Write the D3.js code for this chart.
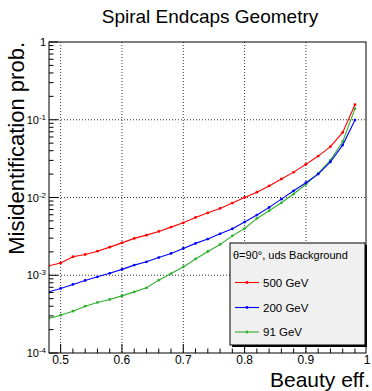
<!DOCTYPE html>
<html>
<head>
<meta charset="utf-8">
<script src="https://cdn.jsdelivr.net/npm/d3@7"></script>
<style>
	body { margin: 0; background: #fff; }
	svg { display: block; font-family: "Liberation Sans", Arial, sans-serif; }
</style>
</head>
<body>
<div id="chart"></div>
<script>
// beauty efficiency points, same for all three curves
var beautyEff = [0.48, 0.50, 0.52, 0.54, 0.56, 0.58, 0.60, 0.62, 0.64, 0.66, 0.68, 0.70, 0.72,
	0.74, 0.76, 0.78, 0.80, 0.82, 0.84, 0.86, 0.88, 0.90, 0.92, 0.94, 0.96, 0.98];

var misId500 = [1.32e-3, 1.44e-3, 1.73e-3, 1.85e-3, 2.04e-3, 2.30e-3, 2.61e-3, 2.98e-3, 3.28e-3,
	3.66e-3, 4.16e-3, 4.72e-3, 5.54e-3, 6.36e-3, 7.24e-3, 8.48e-3, 1.00e-2, 1.17e-2, 1.41e-2,
	1.73e-2, 2.12e-2, 2.67e-2, 3.41e-2, 4.50e-2, 6.88e-2, 0.156];

var misId200 = [6.11e-4, 6.76e-4, 7.62e-4, 8.58e-4, 9.54e-4, 1.06e-3, 1.19e-3, 1.35e-3, 1.49e-3,
	1.69e-3, 1.91e-3, 2.21e-3, 2.57e-3, 2.92e-3, 3.41e-3, 3.96e-3, 4.83e-3, 5.94e-3, 7.46e-3,
	9.53e-3, 1.22e-2, 1.55e-2, 2.00e-2, 2.88e-2, 4.72e-2, 9.91e-2];

var misId91 = [2.78e-4, 3.06e-4, 3.45e-4, 4.00e-4, 4.47e-4, 4.88e-4, 5.43e-4, 6.11e-4, 6.89e-4,
	8.65e-4, 1.05e-3, 1.28e-3, 1.62e-3, 2.02e-3, 2.49e-3, 3.21e-3, 4.00e-3, 5.38e-3, 6.75e-3,
	8.55e-3, 1.11e-2, 1.48e-2, 2.04e-2, 3.03e-2, 5.21e-2, 0.139];

var seriesNames = ['500 GeV', '200 GeV', '91 GeV'];
var seriesColors = ['#ff0000', '#0000ff', '#2eb02e'];

var xTicks = [0.5, 0.6, 0.7, 0.8, 0.9, 1.0];
var xTickLabels = ['0.5', '0.6', '0.7', '0.8', '0.9', '1'];
var yDecades = [-4, -3, -2, -1, 0];

function Chart(options) {
	this.options = options || {};
	this.container = this.options.container || '#chart';
	this.width = 372;
	this.height = 391;
	this.frame = {left: 49, right: 366, top: 42, bottom: 353};

	this.init();
}

Chart.prototype = {
	constructor: Chart,

	init: function () {
		var f = this.frame;
		this.svg = d3.select(this.container).append('svg')
			.attr('width', this.width)
			.attr('height', this.height);

		this.x = d3.scaleLinear().domain([0.481, 0.998]).range([f.left, f.right]);
		this.y = d3.scaleLog().domain([1e-4, 1]).range([f.bottom, f.top]);

		this.draw();
	},

	draw: function () {
		this.drawGrid();
		this.drawCurves();
		this.drawAxes();
		this.drawTitles();
		this.drawLegend();
	},

	drawGrid: function () {
		var self = this;
		var f = this.frame;
		var g = this.svg.append('g').attr('class', 'grid');

		g.selectAll('line.vx').data(xTicks.slice(0, 5)).enter().append('line')
			.attr('x1', function (d) { return self.x(d); })
			.attr('x2', function (d) { return self.x(d); })
			.attr('y1', f.top)
			.attr('y2', f.bottom)
			.attr('stroke', '#000')
			.attr('stroke-width', 0.8)
			.attr('stroke-dasharray', '1,2');

		g.selectAll('line.hy').data([-3, -2, -1]).enter().append('line')
			.attr('x1', f.left)
			.attr('x2', f.right)
			.attr('y1', function (d) { return self.y(Math.pow(10, d)); })
			.attr('y2', function (d) { return self.y(Math.pow(10, d)); })
			.attr('stroke', '#000')
			.attr('stroke-width', 0.8)
			.attr('stroke-dasharray', '1,2');
	},

	drawCurves: function () {
		var self = this;
		var f = this.frame;
		var all = [misId500, misId200, misId91];

		this.svg.append('clipPath').attr('id', 'frameClip')
			.append('rect')
			.attr('x', f.left).attr('y', f.top)
			.attr('width', f.right - f.left).attr('height', f.bottom - f.top);

		var line = d3.line()
			.x(function (d) { return self.x(d[0]); })
			.y(function (d) { return self.y(d[1]); });

		var g = this.svg.append('g').attr('clip-path', 'url(#frameClip)');

		for (var i = all.length - 1; i >= 0; i--) {
			var pts = d3.zip(beautyEff, all[i]);
			g.append('path')
				.attr('d', line(pts))
				.attr('fill', 'none')
				.attr('stroke', seriesColors[i])
				.attr('stroke-width', 1.1);

			g.selectAll('circle.s' + i).data(pts).enter().append('circle')
				.attr('cx', function (d) { return self.x(d[0]); })
				.attr('cy', function (d) { return self.y(d[1]); })
				.attr('r', 1.4)
				.attr('fill', seriesColors[i]);
		}
	},

	drawAxes: function () {
		var self = this;
		var f = this.frame;
		var g = this.svg.append('g').attr('class', 'axes');

		g.append('rect')
			.attr('x', f.left).attr('y', f.top)
			.attr('width', f.right - f.left).attr('height', f.bottom - f.top)
			.attr('fill', 'none')
			.attr('stroke', '#000')
			.attr('stroke-width', 1);

		// x ticks: majors every 0.1, minors every 0.02 (pointing inward)
		var minorX = [];
		for (var k = 25; k <= 49; k++) {
			if (k % 5 !== 0) minorX.push(k / 50);
		}
		g.selectAll('line.xminor').data(minorX).enter().append('line')
			.attr('x1', function (d) { return self.x(d); })
			.attr('x2', function (d) { return self.x(d); })
			.attr('y1', f.bottom)
			.attr('y2', f.bottom - 4.5)
			.attr('stroke', '#000');

		g.selectAll('line.xmajor').data(xTicks.slice(0, 5)).enter().append('line')
			.attr('x1', function (d) { return self.x(d); })
			.attr('x2', function (d) { return self.x(d); })
			.attr('y1', f.bottom)
			.attr('y2', f.bottom - 9)
			.attr('stroke', '#000');

		g.selectAll('text.xlab').data(xTicks).enter().append('text')
			.attr('x', function (d) { return Math.min(self.x(d), 367); })
			.attr('y', 364)
			.attr('text-anchor', 'middle')
			.attr('font-size', 12)
			.text(function (d, i) { return xTickLabels[i]; });

		// y ticks: log decades with minors 2..9
		var minorY = [];
		for (var d = -4; d < 0; d++) {
			for (var m = 2; m <= 9; m++) {
				minorY.push(m * Math.pow(10, d));
			}
		}
		g.selectAll('line.yminor').data(minorY).enter().append('line')
			.attr('x1', f.left)
			.attr('x2', f.left + 4.5)
			.attr('y1', function (d) { return self.y(d); })
			.attr('y2', function (d) { return self.y(d); })
			.attr('stroke', '#000');

		g.selectAll('line.ymajor').data(yDecades).enter().append('line')
			.attr('x1', f.left)
			.attr('x2', f.left + 9)
			.attr('y1', function (d) { return self.y(Math.pow(10, d)); })
			.attr('y2', function (d) { return self.y(Math.pow(10, d)); })
			.attr('stroke', '#000');

		yDecades.forEach(function (d) {
			var yy = self.y(Math.pow(10, d));
			var t = g.append('text')
				.attr('x', 46)
				.attr('y', yy + 4)
				.attr('text-anchor', 'end')
				.attr('font-size', 11);
			if (d === 0) {
				t.text('1');
			} else {
				t.append('tspan').text('10');
				t.append('tspan')
					.attr('dy', -4)
					.attr('font-size', 8)
					.text('-' + (-d));
			}
		});
	},

	drawTitles: function () {
		var f = this.frame;

		this.svg.append('text')
			.attr('x', 210)
			.attr('y', 23)
			.attr('text-anchor', 'middle')
			.attr('font-size', 19)
			.text('Spiral Endcaps Geometry');

		this.svg.append('text')
			.attr('transform', 'translate(24,' + f.top + ') rotate(-90)')
			.attr('text-anchor', 'end')
			.attr('font-size', 22)
			.text('Misidentification prob.');

		this.svg.append('text')
			.attr('x', 370)
			.attr('y', 387)
			.attr('text-anchor', 'end')
			.attr('font-size', 21)
			.text('Beauty eff.');
	},

	drawLegend: function () {
		var box = {x: 230, y: 243, w: 135, h: 102};
		var g = this.svg.append('g').attr('class', 'legend');

		// shadow then box
		g.append('rect')
			.attr('x', box.x + 2).attr('y', box.y + 2)
			.attr('width', box.w).attr('height', box.h)
			.attr('fill', '#000');
		g.append('rect')
			.attr('x', box.x).attr('y', box.y)
			.attr('width', box.w).attr('height', box.h)
			.attr('fill', '#f0f0f0')
			.attr('stroke', '#000')
			.attr('stroke-width', 1);

		g.append('text')
			.attr('x', 233)
			.attr('y', 259)
			.attr('font-size', 11)
			.text('\u03b8=90\u00b0, uds Background');

		var rowY = [282.5, 307.5, 332];
		for (var i = 0; i < seriesNames.length; i++) {
			g.append('line')
				.attr('x1', 235).attr('x2', 259)
				.attr('y1', rowY[i]).attr('y2', rowY[i])
				.attr('stroke', seriesColors[i])
				.attr('stroke-width', 1.1);
			g.append('circle')
				.attr('cx', 247).attr('cy', rowY[i])
				.attr('r', 1.4)
				.attr('fill', seriesColors[i]);
			g.append('text')
				.attr('x', 263)
				.attr('y', rowY[i] + 4)
				.attr('font-size', 11.5)
				.text(seriesNames[i]);
		}
	}
};

var chart = new Chart({container: '#chart'});
</script>
</body>
</html>
